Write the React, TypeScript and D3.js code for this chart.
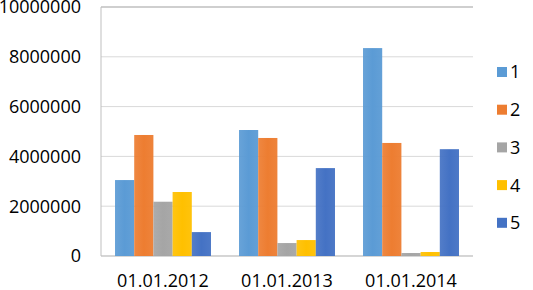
import React from "react";
import { scaleBand, scaleLinear } from "d3";

const categories = ["01.01.2012", "01.01.2013", "01.01.2014"];
const seriesNames = ["1", "2", "3", "4", "5"];
// values per series, one per category
const s1 = [3050000, 5060000, 8350000];
const s2 = [4860000, 4740000, 4540000];
const s3 = [2180000, 520000, 120000];
const s4 = [2570000, 640000, 160000];
const s5 = [960000, 3530000, 4290000];
const yTicks = [0, 2000000, 4000000, 6000000, 8000000, 10000000];
const colorList = ["#5B9BD5", "#ED7D31", "#A5A5A5", "#FFC000", "#4472C4"];

const App = () => {
    const width = 533
    const height = 290
    const margin = { top: 7, right: 60, bottom: 34, left: 101 }
    const innerWidth = width - margin.left - margin.right
    const innerHeight = height - margin.top - margin.bottom
    const series = [s1, s2, s3, s4, s5]
    const font = "'Open Sans', sans-serif"

    const xScale = scaleBand()
        .domain(categories)
        .range([0, innerWidth])

    // bars inside each category
    const inner = scaleBand()
        .domain(seriesNames)
        .range([0, xScale.bandwidth()])
        .paddingInner(0)
        .paddingOuter(0.73)

    const yScale = scaleLinear()
        .domain([0, 10000000])
        .range([innerHeight, 0])

    return (
        <div style={{ position: "absolute", left: 0, top: 0 }}>
            <svg width={width} height={height} style={{ display: "block" }}>
                <defs>
                    {colorList.map((c, i) => (
                        <linearGradient id={`g${i}`} key={i} x1="0" x2="1" y1="0" y2="0">
                            <stop offset="0" stopColor={c} stopOpacity={0.92} />
                            <stop offset="0.5" stopColor={c} stopOpacity={1} />
                            <stop offset="1" stopColor={c} stopOpacity={0.95} />
                        </linearGradient>
                    ))}
                </defs>
                <rect width={width} height={height} fill="white" />
                <g transform={`translate(${margin.left}, ${margin.top})`}>
                    {
                        yTicks.map((t, i) => (
                            <g key={i} transform={`translate(0, ${yScale(t)})`}>
                                <line x2={innerWidth} stroke={t === 10000000 ? "#bfbfbf" : "#d9d9d9"} strokeWidth={t === 10000000 ? 1.5 : 1} />
                                <text x={-20} dy="0.35em" textAnchor="end" fontFamily={font} fontSize={18} fill="#000">{t}</text>
                            </g>
                        ))
                    }
                    <line y1={0} y2={innerHeight} stroke="#bfbfbf" />
                    <line x2={innerWidth} y1={innerHeight} y2={innerHeight} stroke="#bfbfbf" />

                    {
                        categories.map((cat, ci) => (
                            <g key={cat} transform={`translate(${xScale(cat)}, 0)`}>
                                {series.map((vals, si) => (
                                    <rect key={si}
                                        x={inner(seriesNames[si])}
                                        y={yScale(vals[ci])}
                                        width={inner.bandwidth()}
                                        height={innerHeight - yScale(vals[ci])}
                                        fill={`url(#g${si})`} />
                                ))}
                                <text x={xScale.bandwidth() / 2} y={innerHeight + 31} textAnchor="middle" fontFamily={font} fontSize={18} fill="#000">{cat}</text>
                            </g>
                        ))
                    }
                </g>

                {/* legend */}
                {
                    seriesNames.map((n, i) => (
                        <g key={n} transform={`translate(497, ${72 + i * 37.7})`}>
                            <rect x={0} y={-5} width={10} height={10} fill={colorList[i]} />
                            <text x={13} dy="0.36em" fontFamily={font} fontSize={18} fill="#000">{n}</text>
                        </g>
                    ))
                }
            </svg>
        </div>
    )
}

export default App
